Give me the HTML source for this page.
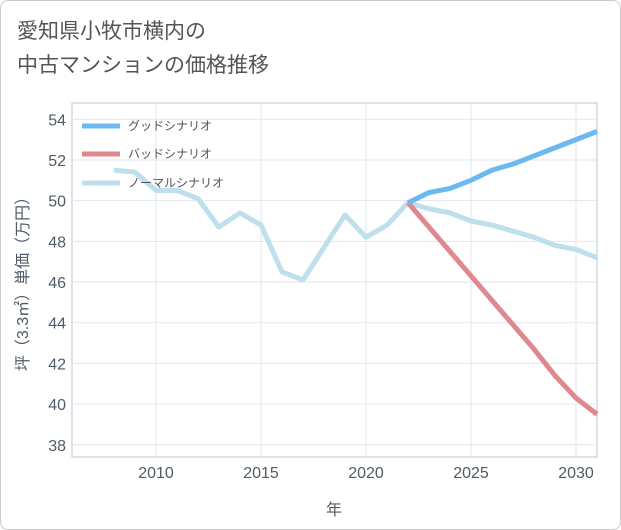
<!DOCTYPE html>
<html><head><meta charset="utf-8"><style>
body{margin:0;background:#fff;}
#wrap{position:relative;width:619px;height:528px;border:1px solid #ccc;border-radius:8px;background:#fff;overflow:hidden;font-family:"Liberation Sans","Noto Sans CJK JP",sans-serif;}
#title{position:absolute;left:16px;top:14px;font-size:21px;line-height:34px;color:#555;}
svg text{font-family:"Liberation Sans","Noto Sans CJK JP",sans-serif;}
</style></head><body>
<div id="wrap">
<div id="title">愛知県小牧市横内の<br>中古マンションの価格推移</div>
<svg id="chart" width="621" height="530" style="position:absolute;left:-1px;top:-1px"></svg>
</div>
<script>
const normalYears=[2008,2009,2010,2011,2012,2013,2014,2015,2016,2017,2018,2019,2020,2021,2022,2023,2024,2025,2026,2027,2028,2029,2030,2031];
const normalVals=[51.5,51.4,50.5,50.5,50.1,48.7,49.4,48.8,46.5,46.1,47.7,49.3,48.2,48.8,49.9,49.6,49.4,49.0,48.8,48.5,48.2,47.8,47.6,47.2];
const futureYears=[2022,2023,2024,2025,2026,2027,2028,2029,2030,2031];
const goodVals=[49.9,50.4,50.6,51.0,51.5,51.8,52.2,52.6,53.0,53.4];
const badVals=[49.9,48.7,47.5,46.3,45.1,43.9,42.7,41.4,40.3,39.5];
const xTicks=[2010,2015,2020,2025,2030];
const yTicks=[38,40,42,44,46,48,50,52,54];
const L=72,R=597,T=103,B=457;
const x=v=>L+(v-2006)*(R-L)/25;
const y=v=>T+(54.8-v)*(B-T)/17.4;
const svg=document.getElementById('chart');
const NS='http://www.w3.org/2000/svg';
function mk(t,a,txt){const e=document.createElementNS(NS,t);for(const k in a)e.setAttribute(k,a[k]);if(txt!==undefined)e.textContent=txt;svg.appendChild(e);return e;}
let e=mk('rect',{x:L,y:T,width:R-L,height:B-T,fill:'#fff',stroke:'#b8c4d0'});


xTicks.forEach(t=>{
 let g=mk('line',{x1:x(t),x2:x(t),y1:T,y2:B,stroke:'#e2e7ed'});
 
 
 let l=mk('text',{x:x(t),y:478,'font-size':16,fill:'#4f5b66','text-anchor':'middle'},t);
 
 
});
yTicks.forEach(t=>{
 let g=mk('line',{x1:L,x2:R,y1:y(t),y2:y(t),stroke:'#e2e7ed'});
 
 
 let l=mk('text',{x:66,y:y(t)+6,'font-size':16,fill:'#4f5b66','text-anchor':'end'},t);
 
 
});
e=mk('text',{x:334,y:515,'font-size':16,fill:'#4f5b66','text-anchor':'middle'},'年');


e=mk('text',{x:0,y:0,'font-size':16,fill:'#4f5b66','text-anchor':'middle',transform:'translate(28,280) rotate(-90)'},'坪（3.3㎡）単価（万円）');


function line(xs,vs,color,name){
 const p=mk('polyline',{points:xs.map((v,i)=>x(v)+','+y(vs[i])).join(' '),fill:'none',stroke:color,'stroke-width':5,'stroke-linejoin':'round'});
 
 
}
line(normalYears,normalVals,'#bde0ec','normal-scenario-line');
line(futureYears,badVals,'#e0888f','bad-scenario-line');
line(futureYears,goodVals,'#6bb9f0','good-scenario-line');
const leg=[['グッドシナリオ','#6bb9f0',126],['バッドシナリオ','#e0888f',154],['ノーマルシナリオ','#bde0ec',183]];
leg.forEach(([n,c,yy])=>{
 let s=mk('line',{x1:82,x2:120,y1:yy,y2:yy,stroke:c,'stroke-width':5});
 
 
 let t=mk('text',{x:128,y:yy+4,'font-size':12,fill:'#555'},n);
 
 
});
</script>
</body></html>
